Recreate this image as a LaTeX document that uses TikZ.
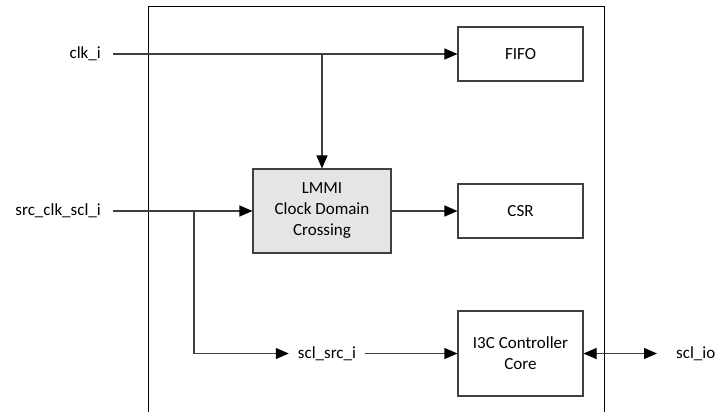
\documentclass[tikz,border=0pt]{standalone}
\usepackage{fontspec}
\setmainfont{Carlito}
\usetikzlibrary{arrows.meta}
\begin{document}
\begin{tikzpicture}[x=1pt,y=-1pt,
  font=\fontsize{17}{21}\selectfont,
  wire/.style={draw=black!75, line width=1.1pt},
  head/.tip={Triangle[length=13pt,width=11pt,color=black]},
  tip/.style={-head},
  block/.style={draw=black!75, line width=1.1pt, minimum width=125pt,
    align=center, inner sep=0pt},
  inlabel/.style={anchor=east, inner xsep=12pt, inner ysep=2pt},
]
\useasboundingbox (0,0) rectangle (725,412);

% module boundary, open at the bottom
\draw[black, line width=1pt] (148,412) -- (148,7) -- (604,7) -- (604,412);

% blocks
\node[block, minimum height=54pt] (fifo) at (520.5,54) {FIFO};
\node[block, minimum height=54pt] (csr) at (520.5,211) {CSR};
\node[block, minimum height=85pt] (core) at (520.5,353.5) {I3C Controller\\Core};
\node[block, fill=black!10, minimum width=138pt, minimum height=84pt] (cdc)
  at (322,211) {LMMI\\Clock Domain\\Crossing};

% signal labels
\node[inlabel] (clk) at (113,54) {clk\_i};
\node[inlabel] (src) at (113,211) {src\_clk\_scl\_i};
\node[inner xsep=9pt, inner ysep=2pt] (sclsrc) at (327,353.5) {scl\_src\_i};
\node[anchor=west, inner sep=0pt] (sclio) at (676,354) {scl\_io};

% branch points and free ends
\coordinate (clkbr) at (cdc.north |- clk.east);
\coordinate (srcbr) at (194,211);
\coordinate (ioend) at (657,353.5);

% connections
\draw[wire,tip] (clk.east) -- (fifo.west);
\draw[wire,tip] (clkbr) -- (cdc.north);
\draw[wire,tip] (src.east) -- (cdc.west);
\draw[wire,tip] (srcbr) |- (sclsrc.west);
\draw[wire,tip] (sclsrc.east) -- (core.west);
\draw[wire,tip] (cdc.east) -- (csr.west);
\draw[wire,head-head] (core.east) -- (ioend);
\end{tikzpicture}
\end{document}
